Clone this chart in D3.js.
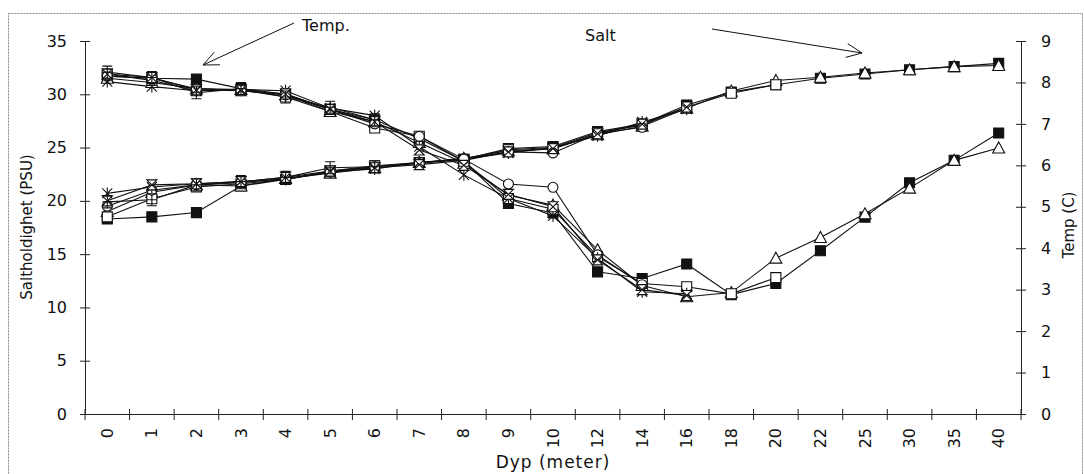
<!DOCTYPE html>
<html><head><meta charset="utf-8">
<script src="https://cdn.jsdelivr.net/npm/d3@7"></script>
<style>
html,body{margin:0;padding:0;background:#fff;}
text{font-family:"DejaVu Sans",sans-serif;fill:#111;}
</style></head>
<body><svg id="c" width="1084" height="474"></svg>
<script>
const depths = ["0","1","2","3","4","5","6","7","8","9","10","12","14","16","18","20","22","25","30","35","40"];
// series markers
const markers = ["fsquare","triangle","square","circle","asterisk","hourglass","icross"];
// Salinity (PSU), left axis
const saltA = [18.3,18.5,18.9,21.4,22.0,22.8,23.2,23.6,23.9,24.9,25.1,26.5,27.2,29.0,30.2,30.9,31.5,31.9,32.3,32.6,32.9];
const saltB = [19.0,20.8,21.5,21.4,22.1,22.6,23.1,23.6,24.0,24.7,24.9,26.2,27.0,28.7,30.3,31.3,31.6,32.0,32.3,32.6,32.7];
const saltC = [18.5,20.2,21.3,21.6,22.0,22.8,23.3,23.6,23.9,24.8,25.0,26.4,27.1,28.8,30.1,30.9];
const saltD = [19.5,21.0,21.5,21.7,22.1,22.7,23.2,23.5,23.9,24.6,24.5,26.3,26.9];
const saltE = [20.7,21.3,21.6,21.8,22.0,22.7,23.0,23.6,23.9,24.5,25.0,26.1,27.4,28.6];
const saltF = [20.0,21.5,21.6,21.8,22.2,22.8,23.1,23.4,23.8,24.6,24.9,26.3,27.2,28.8];
const saltG = [19.9,20.1,21.5,21.8,22.2,23.1,23.2];
// Temperature (C), right axis
const tempA = [8.15,8.10,8.08,7.85,7.72,7.35,7.10,6.65,6.10,5.08,4.85,3.43,3.27,3.62,2.88,3.15,3.94,4.75,5.58,6.12,6.78];
const tempB = [8.10,8.00,7.85,7.83,7.70,7.30,7.05,6.55,6.05,5.28,5.04,3.96,3.10,2.83,2.93,3.76,4.26,4.83,5.45,6.12,6.42];
const tempC = [8.20,8.05,7.80,7.82,7.65,7.30,6.90,6.70,6.10,5.20,4.94,3.80,3.15,3.07,2.90,3.29];
const tempD = [8.15,8.10,7.85,7.80,7.70,7.35,7.00,6.70,6.15,5.55,5.47,3.84,3.12];
const tempE = [8.02,7.90,7.80,7.83,7.80,7.38,7.20,6.45,5.77,5.20,4.78,3.76,2.95,2.90];
const tempF = [8.20,8.12,7.82,7.80,7.72,7.35,7.05,6.37,6.00,5.30,5.00,3.72,3.00,2.86];
const tempG = [8.25,8.12,7.75,7.85,7.65,7.40,7.10];
const leftTicks = [0,5,10,15,20,25,30,35];
const rightTicks = [0,1,2,3,4,5,6,7,8,9];

const saltSeries = [saltA,saltB,saltC,saltD,saltE,saltF,saltG];
const tempSeries = [tempA,tempB,tempC,tempD,tempE,tempF,tempG];

const svg = d3.select("#c");
const L=85, R=1021, T=41, B=414;
const x = d3.scaleBand().domain(depths).range([L,R]);
const yL = d3.scaleLinear().domain([0,35]).range([B,T]);
const yR = d3.scaleLinear().domain([0,9]).range([B,T]);
const cx = d => x(d) + x.bandwidth()/2;

// frame
svg.append("rect").attr("x",8.5).attr("y",13.5).attr("width",1074).attr("height",470)
  .attr("fill","none").attr("stroke","#888").attr("stroke-width",1).attr("stroke-dasharray","2,1");

// axes
const gl = svg.append("g").attr("transform",`translate(${L},0)`)
  .call(d3.axisLeft(yL).tickValues(leftTicks).tickSize(5).tickPadding(13));
svg.append("g").attr("transform",`translate(${L},0)`)
  .call(d3.axisRight(yL).tickValues(leftTicks).tickSize(5).tickFormat(""));
const gr = svg.append("g").attr("transform",`translate(${R},0)`)
  .call(d3.axisRight(yR).tickValues(rightTicks).tickSize(5).tickPadding(15));
svg.append("g").attr("transform",`translate(${R},0)`)
  .call(d3.axisLeft(yR).tickValues(rightTicks).tickSize(5).tickFormat(""));
const gx = svg.append("g").attr("transform",`translate(0,${B})`)
  .call(d3.axisBottom(x).tickSize(0).tickPadding(0));
gx.selectAll(".tick text").attr("transform","rotate(-90)").attr("text-anchor","end")
  .attr("x",-14).attr("y",0).attr("dy","0.35em");
// x boundary ticks
const bounds = depths.map(d=>x(d)).concat([x.range()[1]]);
svg.append("g").selectAll("line").data(bounds).join("line")
  .attr("x1",d=>d).attr("x2",d=>d).attr("y1",B-5).attr("y2",B+6).attr("stroke","#222");
[gl,gr,gx].forEach(g=>{g.selectAll("text").style("font-size","16px").style("font-family","DejaVu Sans").attr("fill","#111");});
svg.selectAll(".tick line").attr("stroke","#222");
svg.selectAll(".domain").attr("stroke","#222");

// titles
svg.append("text").attr("transform",`translate(27,227) rotate(-90)`).attr("text-anchor","middle")
  .attr("dy","0.35em").style("font-size","15px").text("Saltholdighet (PSU)");
svg.append("text").attr("transform",`translate(1069,225) rotate(-90)`).attr("text-anchor","middle")
  .attr("dy","0.35em").style("font-size","15px").text("Temp (C)");
svg.append("text").attr("x",553).attr("y",468).attr("text-anchor","middle")
  .style("font-size","17px").style("letter-spacing","1px").text("Dyp (meter)");

// annotations
svg.append("text").attr("x",302).attr("y",31).style("font-size","16px").text("Temp.");
svg.append("text").attr("x",585).attr("y",41).style("font-size","16px").text("Salt");
const arrow = (x1,y1,x2,y2)=>{
  const a = Math.atan2(y2-y1,x2-x1), h=17, s=0.42;
  svg.append("path").attr("fill","none").attr("stroke","#111").attr("stroke-width",1)
    .attr("d",`M${x1},${y1}L${x2},${y2}M${x2-h*Math.cos(a-s)},${y2-h*Math.sin(a-s)}L${x2},${y2}L${x2-h*Math.cos(a+s)},${y2-h*Math.sin(a+s)}`);
};
arrow(294,23,203,65);
arrow(712,29,862,53);

// lines
const drawSeries = (vals, y) => {
  const pts = vals.map((v,i)=>[cx(depths[i]), y(v)]);
  svg.append("path").attr("d",d3.line()(pts)).attr("fill","none").attr("stroke","#111").attr("stroke-width",1.1);
};
saltSeries.forEach(s=>drawSeries(s,yL));
tempSeries.forEach(s=>drawSeries(s,yR));

const markerPath = {
  fsquare: "M-5,-5H5V5H-5Z",
  square: "M-5,-5H5V5H-5Z",
  triangle: "M0,-6L6,5H-6Z",
  circle: d3.symbol(d3.symbolCircle,78)(),
  asterisk: "M0,-6V6M-5,-5L5,5M-5,5L5,-5",
  hourglass: "M-5,-5H5L-5,5H5Z",
  icross: "M-5,-6H5M0,-6V6M-5,6H5M-5,0H5"
};
const drawMarkers = (vals, y, m) => {
  svg.append("g").selectAll("path").data(vals).join("path")
    .attr("transform",(v,i)=>`translate(${cx(depths[i])},${y(v)})`)
    .attr("d",markerPath[m])
    .attr("fill", m==="fsquare" ? "#111" : (m==="asterisk"||m==="icross" ? "none" : "#fff"))
    .attr("stroke","#111").attr("stroke-width",1.1);
};
saltSeries.forEach((s,i)=>drawMarkers(s,yL,markers[i]));
tempSeries.forEach((s,i)=>drawMarkers(s,yR,markers[i]));
</script></body></html>
